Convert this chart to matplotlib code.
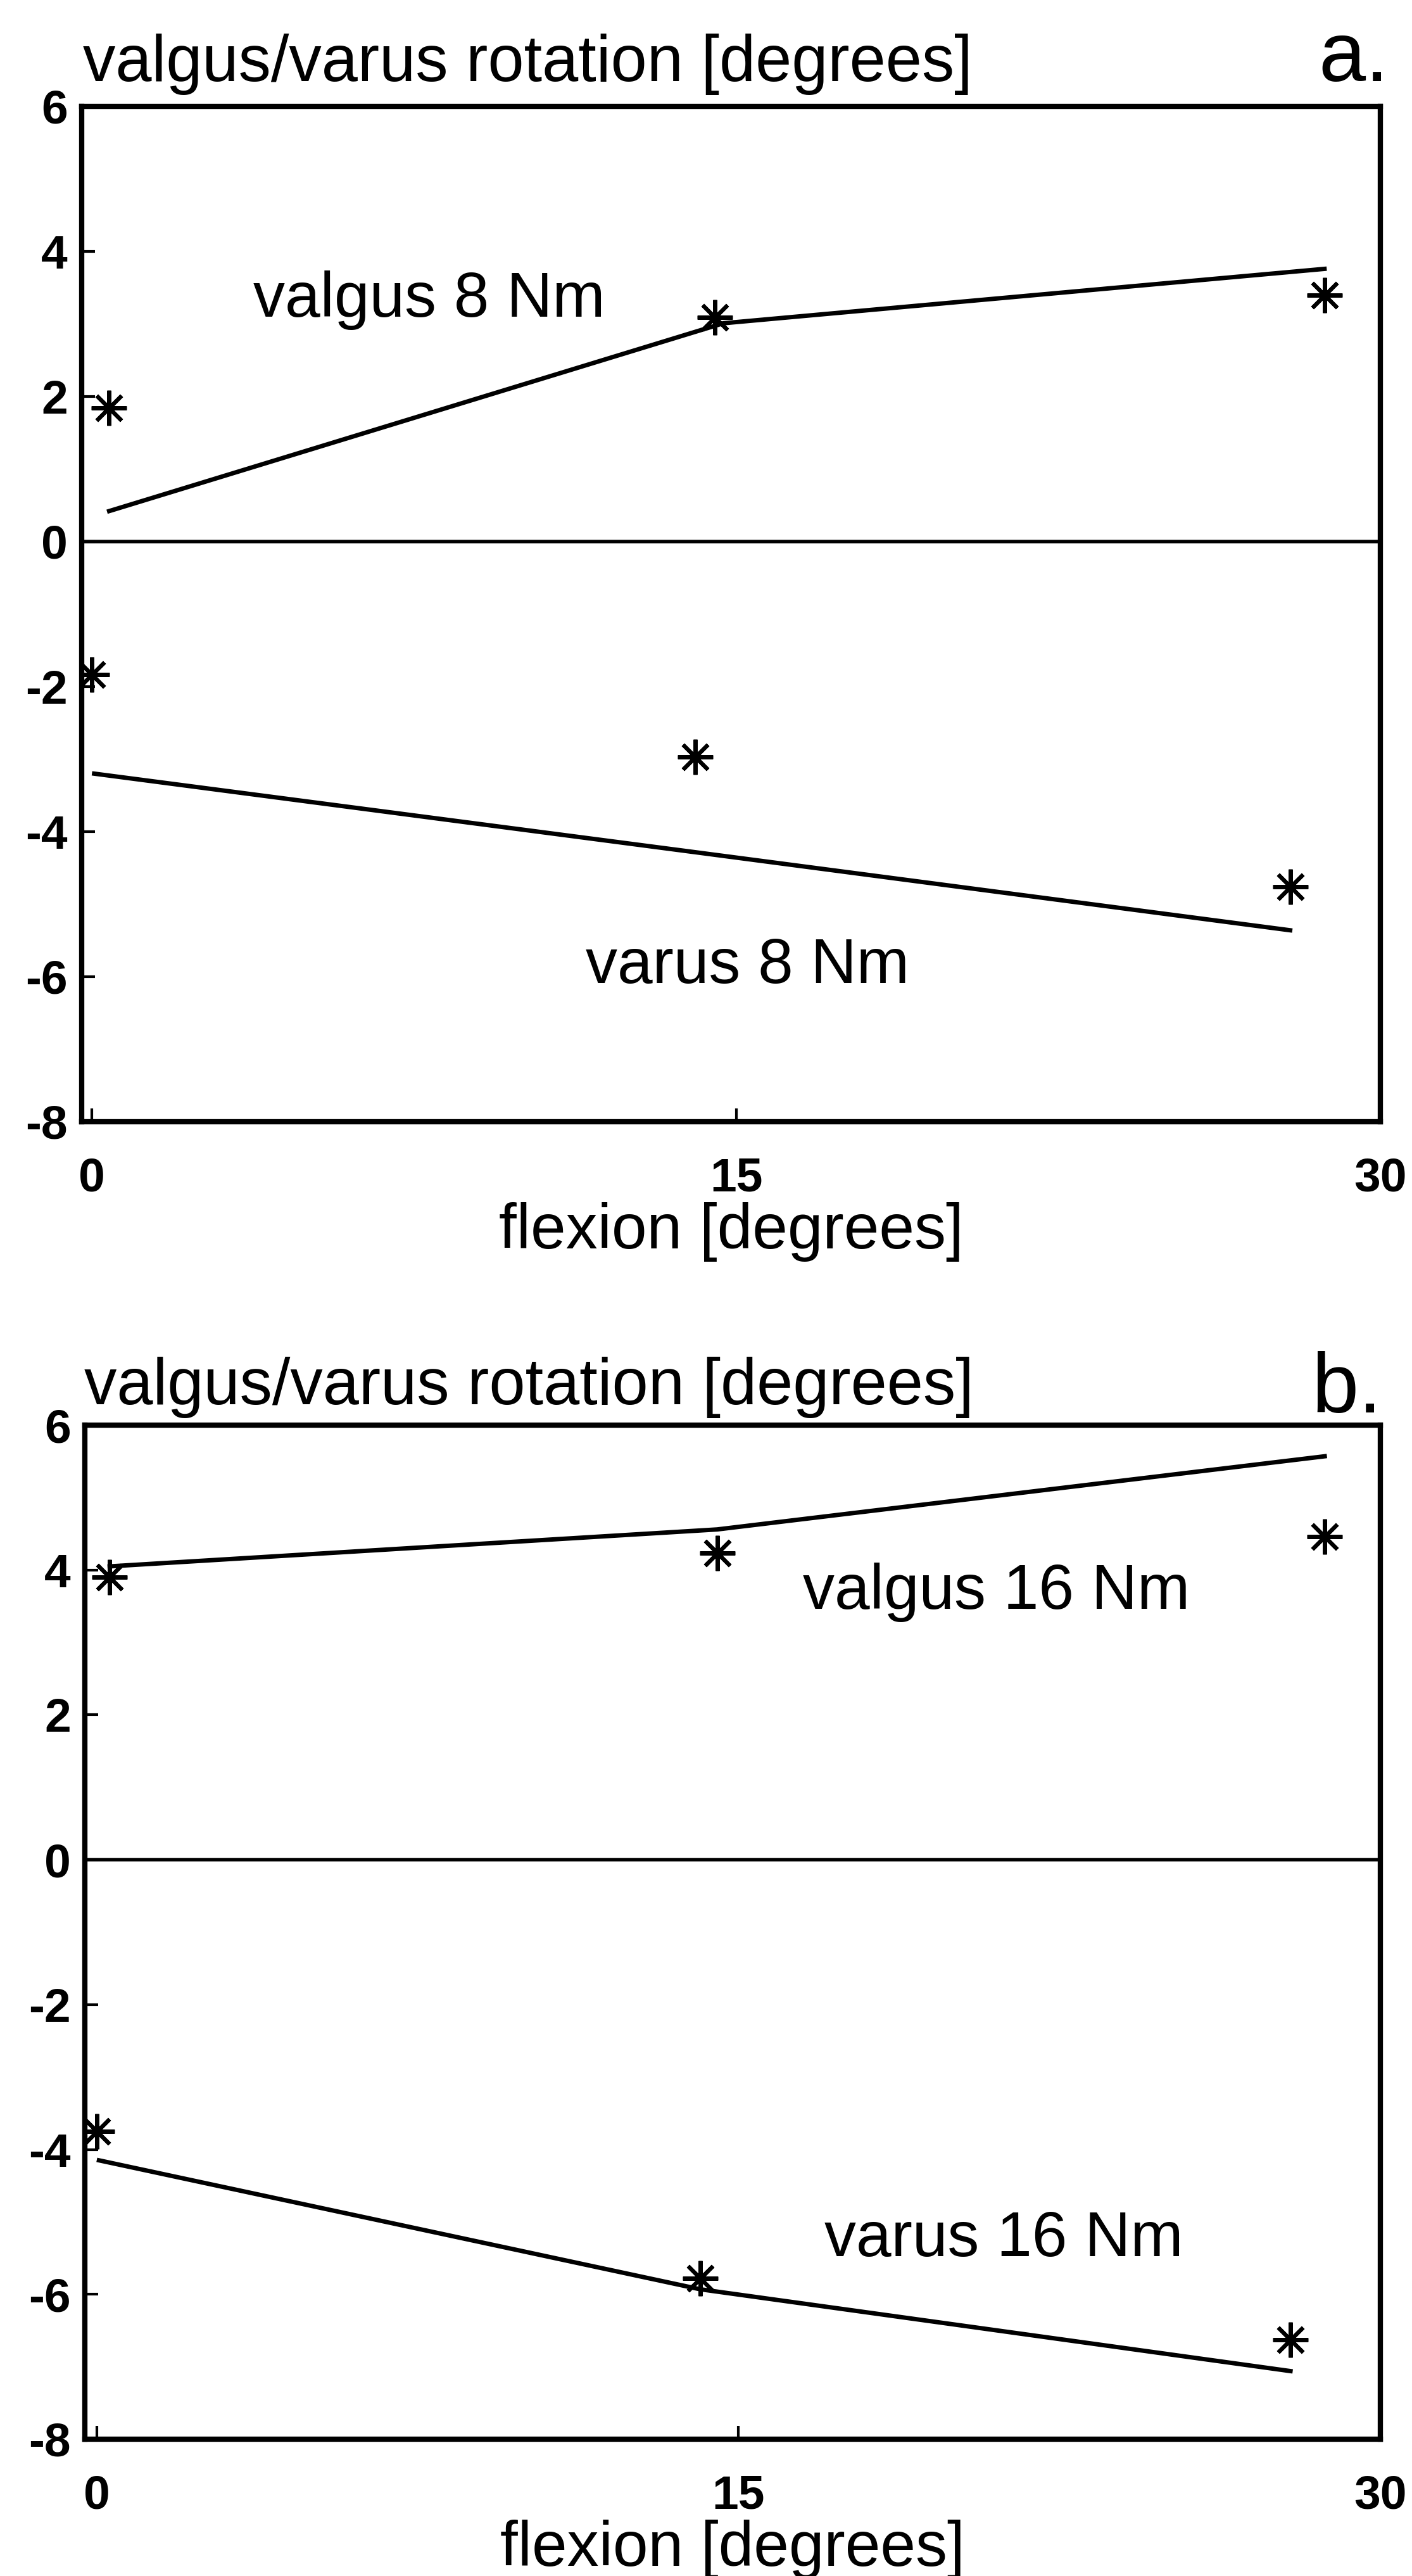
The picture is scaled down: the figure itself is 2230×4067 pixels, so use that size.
import matplotlib
matplotlib.use('Agg')
import matplotlib.pyplot as plt

plt.rcParams['axes.unicode_minus'] = False

# flexion angles (degrees) and valgus/varus rotation (degrees)
# panel a: 8 Nm
a_valgus_x = [0.4, 14.5, 28.7]
a_valgus_y = [1.84, 3.09, 3.40]
a_valgus_fit_x = [0.4, 14.7, 28.7]
a_valgus_fit_y = [0.42, 3.01, 3.76]

a_varus_x = [0.0, 14.05, 27.9]
a_varus_y = [-1.83, -2.97, -4.76]
a_varus_fit_x = [0.05, 14.0, 27.9]
a_varus_fit_y = [-3.2, -4.28, -5.36]

# panel b: 16 Nm
b_valgus_x = [0.3, 14.5, 28.7]
b_valgus_y = [3.90, 4.23, 4.46]
b_valgus_fit_x = [0.3, 14.5, 28.7]
b_valgus_fit_y = [4.05, 4.56, 5.57]

b_varus_x = [0.0, 14.1, 27.9]
b_varus_y = [-3.75, -5.78, -6.63]
b_varus_fit_x = [0.05, 14.1, 27.9]
b_varus_fit_y = [-4.15, -5.93, -7.06]

yticks = [-8, -6, -4, -2, 0, 2, 4, 6]
xticks = [0, 15, 30]

W, H = 2230, 4067
big_font = ['Liberation Sans', 'DejaVu Sans']
tick_font = ['Liberation Sans', 'DejaVu Sans']

fig = plt.figure(figsize=(W / 100, H / 100), dpi=100)


def panel(rect, vx, vy, vfx, vfy, rx, ry, rfx, rfy, xlim, labels):
    ax = fig.add_axes(rect)
    ax.plot(vfx, vfy, color='black', lw=5)
    ax.plot(rfx, rfy, color='black', lw=5)
    ax.plot(vx, vy, ls='none', marker=(8, 2, 0), ms=40, mew=4.5, color='black')
    ax.plot(rx, ry, ls='none', marker=(8, 2, 0), ms=40, mew=4.5, color='black')
    ax.axhline(0, color='black', lw=4)
    ax.set_xlim(*xlim)
    ax.set_ylim(-8, 6)
    ax.set_xticks(xticks)
    ax.set_yticks(yticks)
    ax.tick_params(axis='y', direction='in', length=15, width=3, pad=16)
    ax.tick_params(axis='x', direction='in', length=15, width=3, pad=40)
    for lab in ax.get_xticklabels() + ax.get_yticklabels():
        lab.set_fontfamily(tick_font)
        lab.set_fontsize(54)
        lab.set_fontweight('bold')
    for s in ax.spines.values():
        s.set_linewidth(6)
    for (tx, ty, txt) in labels:
        ax.text(tx, ty, txt, fontsize=72, family=big_font, ha='left', va='baseline')
    ax.set_xlabel('flexion [degrees]', fontsize=72, family=big_font, labelpad=2)
    return ax


panel([129 / W, 1 - 1771 / H, (2180 - 129) / W, (1771 - 168) / H],
      a_valgus_x, a_valgus_y, a_valgus_fit_x, a_valgus_fit_y,
      a_varus_x, a_varus_y, a_varus_fit_x, a_varus_fit_y,
      (-0.24, 30.0),
      [(3.75, 3.1, 'valgus 8 Nm'), (11.5, -6.09, 'varus 8 Nm')])

panel([134 / W, 1 - 3851 / H, (2180 - 134) / W, (3851 - 2250) / H],
      b_valgus_x, b_valgus_y, b_valgus_fit_x, b_valgus_fit_y,
      b_varus_x, b_varus_y, b_varus_fit_x, b_varus_fit_y,
      (-0.28, 30.0),
      [(16.5, 3.46, 'valgus 16 Nm'), (17.0, -5.47, 'varus 16 Nm')])

fig.text(131 / W, 1 - 128 / H, 'valgus/varus rotation [degrees]', fontsize=74,
         family=big_font, ha='left', va='baseline')
fig.text(2193 / W, 1 - 128 / H, 'a.', fontsize=96, family=big_font,
         ha='right', va='baseline')
fig.text(133 / W, 1 - 2217 / H, 'valgus/varus rotation [degrees]', fontsize=74,
         family=big_font, ha='left', va='baseline')
fig.text(2183 / W, 1 - 2230 / H, 'b.', fontsize=96, family=big_font,
         ha='right', va='baseline')

fig.savefig('out.png', dpi=100, facecolor='white')
